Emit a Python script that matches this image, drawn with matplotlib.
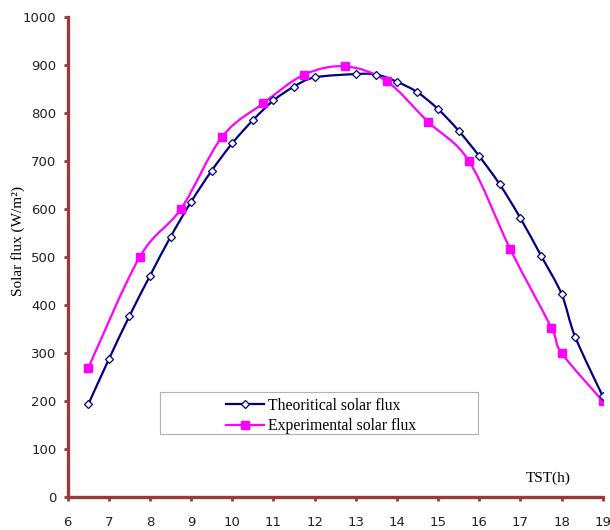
import matplotlib
matplotlib.use("Agg")
import matplotlib.pyplot as plt
from matplotlib.path import Path
from matplotlib.patches import PathPatch, Rectangle
from matplotlib.lines import Line2D
import numpy as np

# theoretical solar flux (hollow diamonds)
theo_t = [6.5, 7, 7.5, 8, 8.5, 9, 9.5, 10, 10.5, 11, 11.5, 12, 13, 13.5,
          14, 14.5, 15, 15.5, 16, 16.5, 17, 17.5, 18, 18.33, 19]
theo_flux = [193, 287, 377, 461, 542, 615, 680, 737, 785, 826, 855, 874, 881, 880,
             865, 843, 808, 763, 710, 651, 581, 503, 423, 334, 210]

# experimental solar flux (filled squares)
exp_t = [6.5, 7.75, 8.75, 9.75, 10.75, 11.75, 12.75, 13.75, 14.75, 15.75,
         16.75, 17.75, 18, 19]
exp_flux = [269, 500, 600, 750, 820, 880, 897, 866, 782, 700, 517, 353, 300, 200]

labels = ["Theoritical solar flux", "Experimental solar flux"]
spine_col = "#973B3B"
navy = "#000080"
magenta = "#FF00FF"


def smooth_path(x, y):
    # excel-like smoothed line: catmull-rom segments as cubic beziers
    p = np.column_stack([x, y]).astype(float)
    verts = [p[0]]
    codes = [Path.MOVETO]
    n = len(p)
    for i in range(n - 1):
        p0 = p[i - 1] if i > 0 else p[i]
        p3 = p[i + 2] if i + 2 < n else p[i + 1]
        c1 = p[i] + (p[i + 1] - p0) / 6.0
        c2 = p[i + 1] - (p3 - p[i]) / 6.0
        verts += [c1, c2, p[i + 1]]
        codes += [Path.CURVE4] * 3
    return Path(verts, codes)


fig = plt.figure(figsize=(6.1, 5.3), dpi=100)
ax = fig.add_axes([0.111, 0.0623, 0.877, 0.9057])

ax.add_patch(PathPatch(smooth_path(theo_t, theo_flux), fill=False,
                       edgecolor=navy, lw=1.6, zorder=2))
ax.add_patch(PathPatch(smooth_path(exp_t, exp_flux), fill=False,
                       edgecolor=magenta, lw=1.6, zorder=2))
ax.plot(exp_t, exp_flux, ls="none", marker="s", ms=5.5, color=magenta,
        mec=magenta, zorder=3)
ax.plot(theo_t, theo_flux, ls="none", marker="D", ms=3.6, mfc="white",
        mec=navy, mew=0.9, zorder=4)

ax.set_xlim(6, 19)
ax.set_ylim(0, 1000)
ax.set_xticks(range(6, 20))
ax.set_yticks(range(0, 1001, 100))

for s in ["top", "right"]:
    ax.spines[s].set_visible(False)
for s in ["left", "bottom"]:
    ax.spines[s].set_color(spine_col)
    ax.spines[s].set_linewidth(2.4)
ax.tick_params(axis="both", colors=spine_col, width=2, length=3,
               labelcolor="#222222", labelsize=9.5)
ax.tick_params(axis="x", pad=11)
ax.tick_params(axis="y", pad=5)

ax.set_ylabel("Solar flux (W/m²)", family="Liberation Serif", fontsize=11)
ax.yaxis.set_label_coords(-0.079, 0.533)
ax.text(0.898, 0.025, "TST(h)", transform=ax.transAxes, family="Liberation Serif",
        fontsize=11, ha="center", va="bottom")

# legend box
ax.add_patch(Rectangle((0.1725, 0.131), 0.5945, 0.088, transform=ax.transAxes,
                       fill=False, edgecolor="#B0B0B0", lw=0.8, zorder=5))
handles = [Line2D([], [], color=navy, lw=1.6, marker="D", ms=3.6, mfc="white",
                  mec=navy, mew=0.9),
           Line2D([], [], color=magenta, lw=1.6, marker="s", ms=5.5)]
ax.legend(handles, labels, loc="upper left", bbox_to_anchor=(0.296, 0.207),
          frameon=False, borderpad=0, borderaxespad=0, handlelength=2.4,
          handletextpad=0.3, labelspacing=0.28,
          prop={"family": "Liberation Serif", "size": 11.3})

fig.savefig("out.png", dpi=100)
